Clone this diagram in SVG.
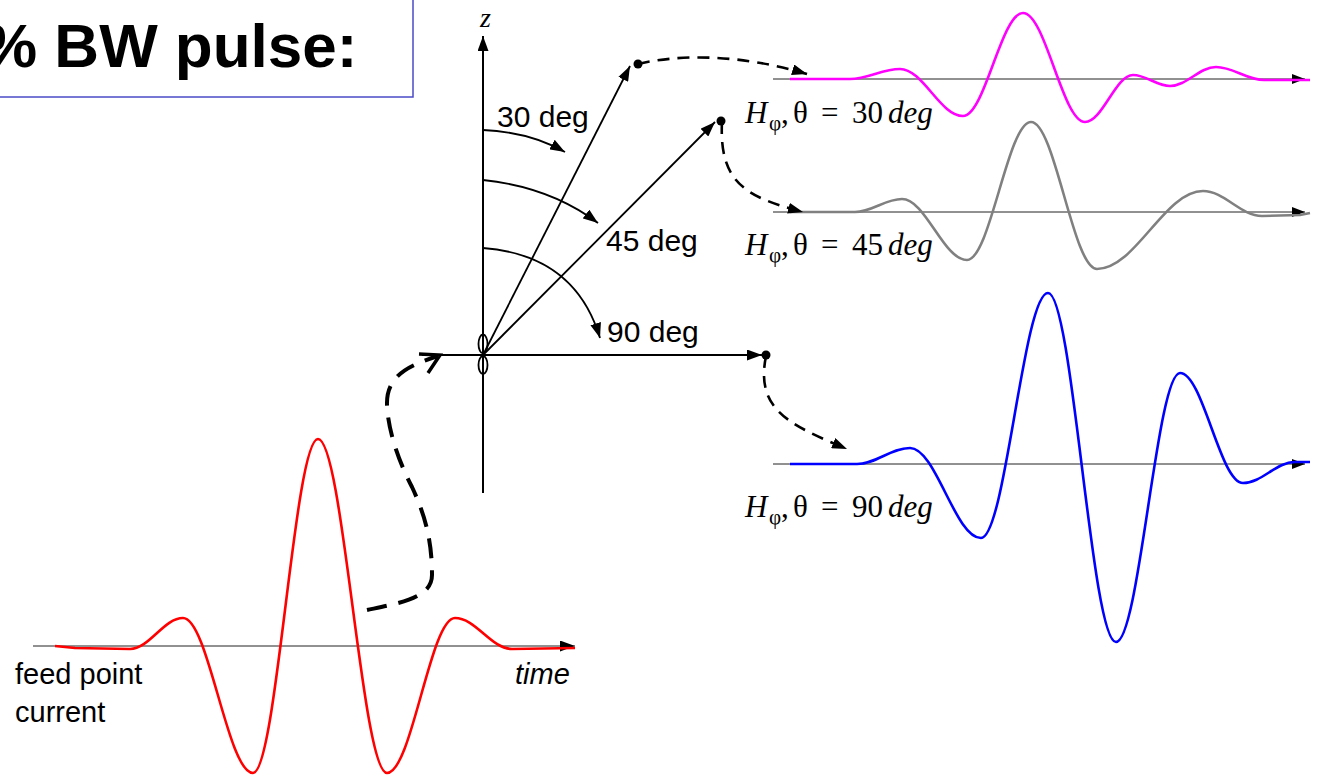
<svg xmlns="http://www.w3.org/2000/svg" width="1317" height="776" viewBox="0 0 1317 776">
<style>
.ax{stroke:#000;stroke-width:2;fill:none}
.thin{stroke:#222;stroke-width:1;fill:none}
.ray{stroke:#000;stroke-width:1.8;fill:none}
.dash{stroke:#000;stroke-width:2.6;fill:none;stroke-dasharray:12 8}
.bigdash{stroke:#000;stroke-width:4;fill:none;stroke-dasharray:20 12}
.wave{fill:none;stroke-width:2.6;stroke-linejoin:round}
.sans{font-family:"Liberation Sans",Arial,sans-serif}
.serif{font-family:"Liberation Serif","Times New Roman",serif;fill:#000}
.it{font-style:italic}
</style>
<defs>
<marker id="ah" viewBox="0 0 15 11" refX="15" refY="5.5" markerWidth="15" markerHeight="11" markerUnits="userSpaceOnUse" orient="auto"><path d="M0,0 L15,5.5 L0,11 z" fill="#000"/></marker>
<marker id="ahs" viewBox="0 0 13 10" refX="13" refY="5" markerWidth="13" markerHeight="10" markerUnits="userSpaceOnUse" orient="auto"><path d="M0,0 L13,5 L0,10 z" fill="#000"/></marker>
</defs>

<g id="title">
<rect x="-10" y="-10" width="423" height="107" fill="#fff" stroke="#4a4ac8" stroke-width="1.5"/>
<text x="-18" y="67" class="sans" font-size="62" font-weight="bold">% BW pulse:</text>
</g>

<g id="dipole-axes">
<line class="ax" x1="483" y1="493" x2="483" y2="36" marker-end="url(#ah)"/>
<line class="ax" x1="422" y1="355" x2="762" y2="355" marker-end="url(#ah)"/>
<ellipse cx="483" cy="344" rx="4.5" ry="9.5" fill="none" stroke="#000" stroke-width="1.8"/>
<ellipse cx="483" cy="365" rx="4.5" ry="9" fill="none" stroke="#000" stroke-width="1.8"/>
<text x="480" y="27" class="serif it" font-size="28">z</text>
</g>

<g id="rays">
<line class="ray" x1="483" y1="355" x2="630" y2="66" marker-end="url(#ah)"/>
<line class="ray" x1="483" y1="355" x2="715" y2="122" marker-end="url(#ah)"/>
<circle cx="638" cy="64" r="4.5"/>
<circle cx="721" cy="121" r="4.5"/>
<circle cx="766" cy="355" r="4.5"/>
</g>

<g id="angle-arcs">
<path class="ray" d="M483,130 Q530,132 565,152" marker-end="url(#ah)"/>
<path class="ray" d="M483,180 Q550,187 598,223" marker-end="url(#ah)"/>
<path class="ray" d="M483,248 Q575,255 600,338" marker-end="url(#ah)"/>
<text x="497" y="127" class="sans" font-size="30">30 deg</text>
<text x="606" y="251" class="sans" font-size="30">45 deg</text>
<text x="607" y="342" class="sans" font-size="30">90 deg</text>
</g>

<g id="plot-30">
<line class="thin" x1="773" y1="79" x2="1305" y2="79" marker-end="url(#ahs)"/>
<path class="wave" stroke="#ff00ff" d="M790,79 L850,79 C868.2,79 881.8,69 900,69 C922.9,69 940.1,116 963,116 C984.8,116 1001.2,13 1023,13 C1045.5,13 1062.5,122 1085,122 C1102.4,122 1115.6,75 1133,75 C1146.4,75 1156.6,86 1170,86 C1186.7,86 1199.3,67 1216,67 C1233.4,67 1246.6,80 1264,80 L1310,80"/>
<text y="123" class="serif" font-size="31"><tspan x="745" class="it">H</tspan><tspan x="769" dy="7" font-size="21">φ</tspan><tspan x="781" dy="-7">,</tspan><tspan x="793">θ</tspan><tspan x="821">=</tspan><tspan x="852">30</tspan><tspan x="888" class="it">deg</tspan></text>
</g>

<g id="plot-45">
<line class="thin" x1="773" y1="212" x2="1305" y2="212" marker-end="url(#ahs)"/>
<path class="wave" stroke="#808080" d="M790,212 L855,212 C872.1,212 884.9,199 902,199 C925.6,199 943.4,260 967,260 C990.2,260 1007.8,122 1031,122 C1055,122 1073,269 1097,269 C1135.5,269 1164.5,191 1203,191 C1224.4,191 1240.6,216 1262,216 L1300,215 L1310,213"/>
<text y="255" class="serif" font-size="31"><tspan x="745" class="it">H</tspan><tspan x="769" dy="7" font-size="21">φ</tspan><tspan x="781" dy="-7">,</tspan><tspan x="793">θ</tspan><tspan x="821">=</tspan><tspan x="852">45</tspan><tspan x="888" class="it">deg</tspan></text>
</g>

<g id="plot-90">
<line class="thin" x1="773" y1="464" x2="1305" y2="464" marker-end="url(#ahs)"/>
<path class="wave" stroke="#0000ff" d="M790,464 L857,464 C876.2,464 890.8,448 910,448 C935.8,448 955.2,538 981,538 C1005.3,538 1023.7,293 1048,293 C1072.7,293 1091.3,642 1116,642 C1139.2,642 1156.8,373 1180,373 C1202.9,373 1220.1,483 1243,483 C1261.9,483 1276.1,462 1295,462 L1310,462"/>
<text y="517" class="serif" font-size="31"><tspan x="745" class="it">H</tspan><tspan x="769" dy="7" font-size="21">φ</tspan><tspan x="781" dy="-7">,</tspan><tspan x="793">θ</tspan><tspan x="821">=</tspan><tspan x="852">90</tspan><tspan x="888" class="it">deg</tspan></text>
</g>

<g id="plot-feed">
<line class="thin" x1="33" y1="646" x2="575" y2="646" marker-end="url(#ah)"/>
<path class="wave" stroke="#ff0000" d="M55,646 L75,648 L130,649 C149.2,649 163.8,618 183,618 C208.4,618 227.6,773 253,773 C276.6,773 294.4,439 318,439 C343,439 362,773 387,773 C411.7,773 430.3,618 455,618 C475.7,618 491.3,649 512,649 L575,648"/>
<text x="15" y="684" class="sans" font-size="29">feed point</text>
<text x="15" y="722" class="sans" font-size="29">current</text>
<text x="515" y="684" class="sans it" font-size="29">time</text>
</g>

<g id="connectors">
<path class="bigdash" d="M367,610 C400,603 432,598 432,575 C432,540 425,515 412,487 C398,460 388,430 387,405 C386,375 410,365 438,356"/>
<polyline points="419,354 440,355 428,373" fill="none" stroke="#000" stroke-width="3.5"/>
<path class="dash" d="M638,64 C680,54 740,54 807,74" marker-end="url(#ah)"/>
<path class="dash" d="M722,122 C719,182 745,197 803,212" marker-end="url(#ah)"/>
<path class="dash" d="M766,356 C755,410 790,425 847,449" marker-end="url(#ah)"/>
</g>
</svg>
